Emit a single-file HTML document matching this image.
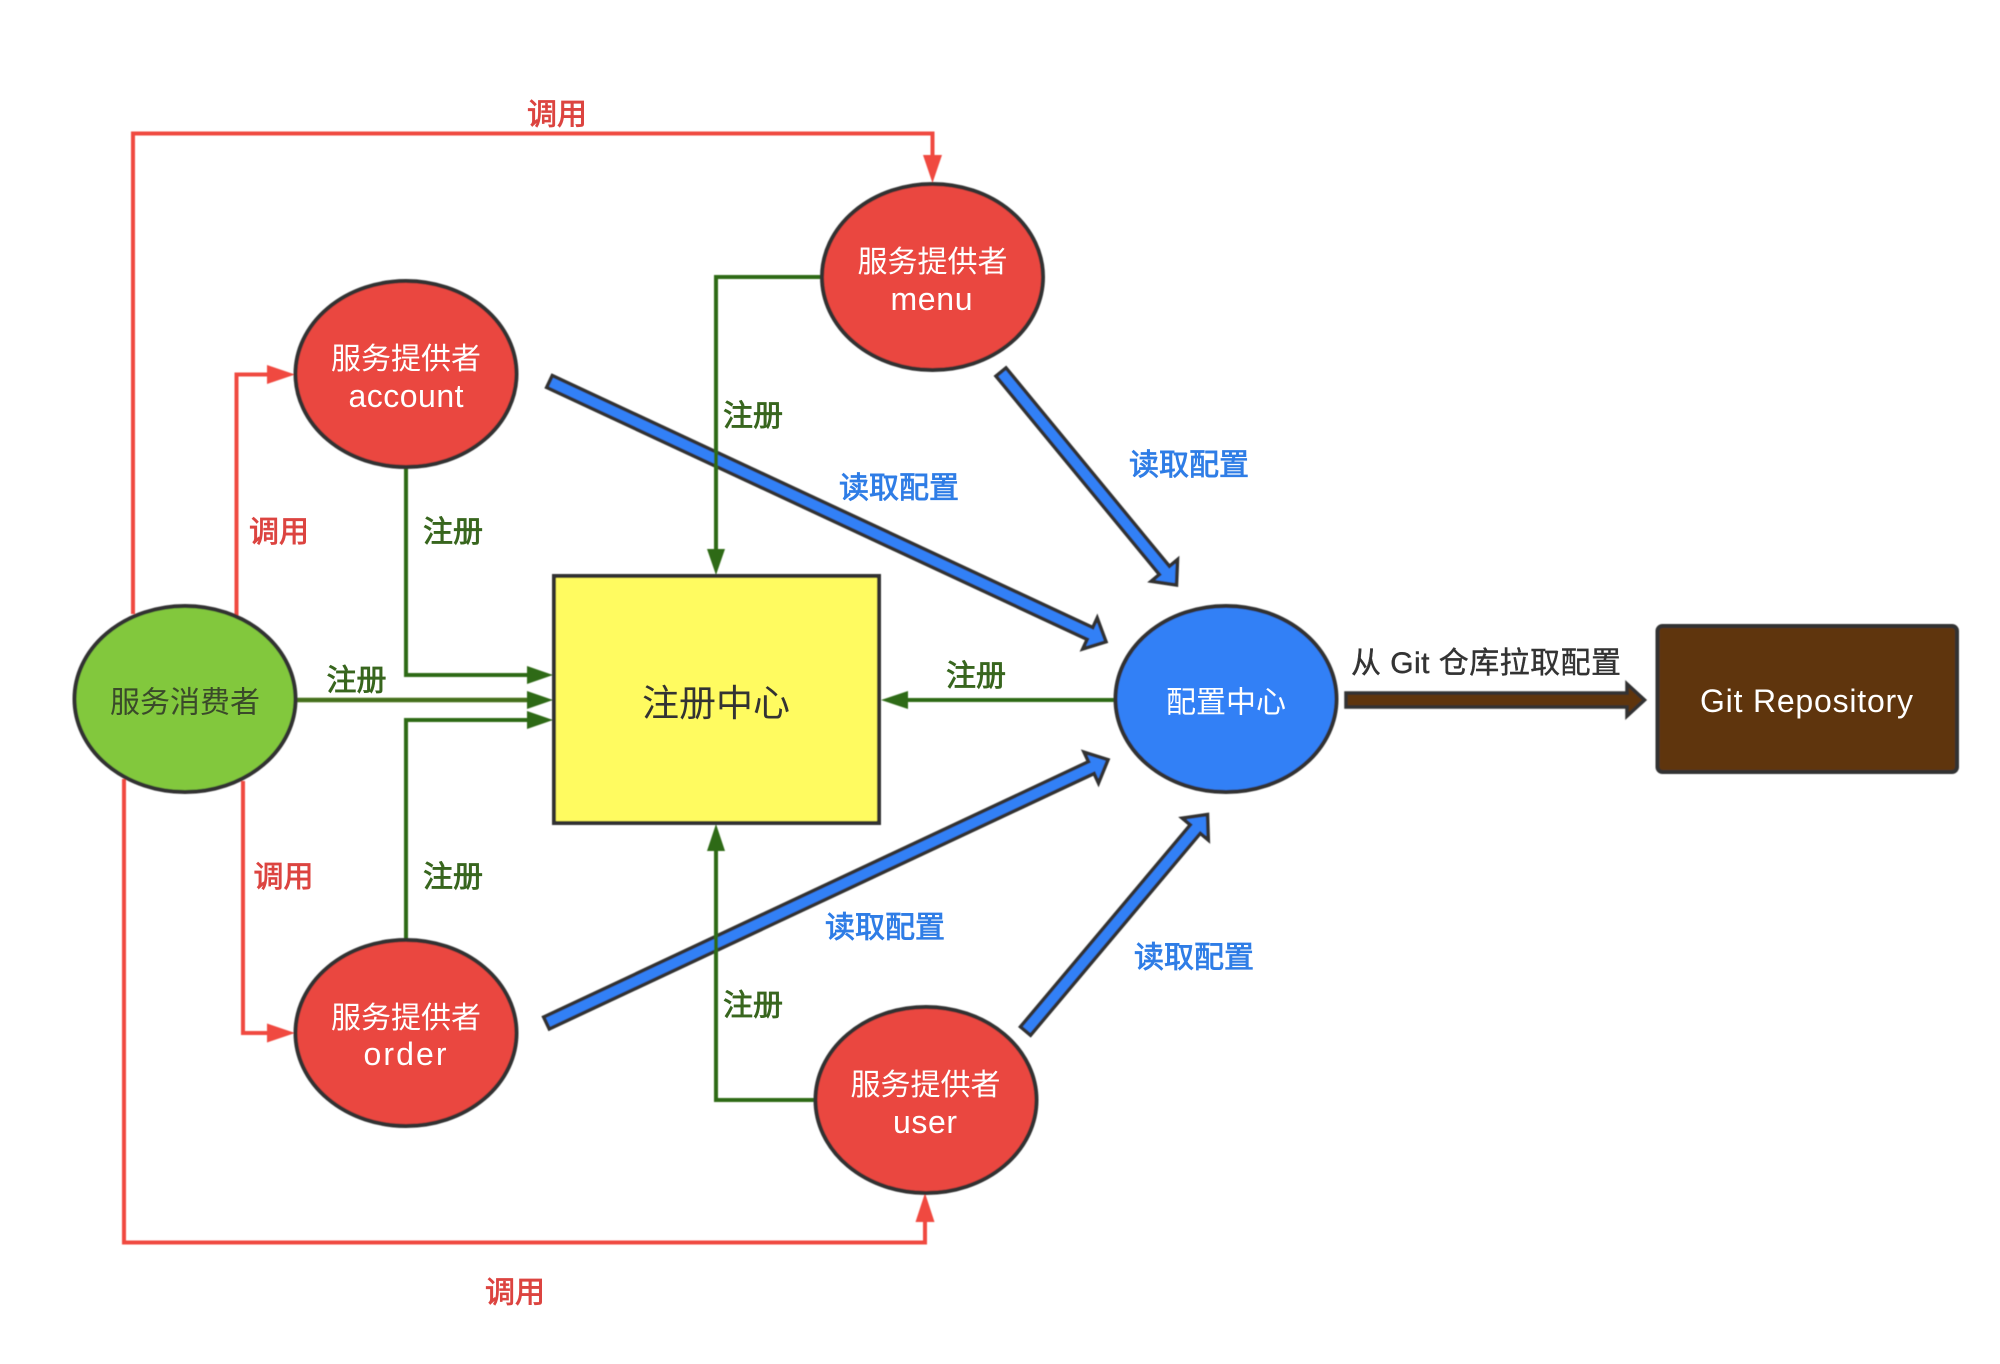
<!DOCTYPE html>
<html><head><meta charset="utf-8"><style>
html,body{margin:0;padding:0;background:#fff}
svg{display:block}
text{font-family:"Liberation Sans","Noto Sans CJK SC",sans-serif;font-size:30px;text-anchor:middle}
.r{fill:#dc4440;stroke:#dc4440;stroke-width:.8}.g{fill:#38661e;stroke:#38661e;stroke-width:.8}.b{fill:#2f7de6;stroke:#2f7de6;stroke-width:.8}
.w{fill:#fff}
.l{font-size:32px}
</style></head><body>
<svg width="2000" height="1364" viewBox="0 0 2000 1364" xmlns="http://www.w3.org/2000/svg">
<defs><filter id="s" x="-2%" y="-2%" width="104%" height="104%"><feGaussianBlur stdDeviation="0.6"/></filter></defs>
<rect width="2000" height="1364" fill="#fff"/>
<g filter="url(#s)">
<!-- blue arrows -->
<g fill="#3080f6" stroke="#333" stroke-width="3.5">
<polygon points="546.7,387.4 1087.2,639.4 1082.8,648.9 1106,641.8 1097.2,618.1 1092.8,627.6 552.3,375.6"/>
<polygon points="996,376.1 1159.4,574.5 1151.3,581.2 1176.5,585 1177.5,559.6 1169.4,566.3 1006,367.9"/>
<polygon points="549.3,1028.9 1094.1,773.5 1098.5,783 1108,759.7 1084.1,752.2 1088.5,761.7 543.7,1017.1"/>
<polygon points="1030.5,1035.2 1200.3,833.3 1208.3,840 1207.5,814.5 1182.3,818.2 1190.3,824.9 1020.5,1026.8"/>
</g>
<polygon points="1346,693 1627,693 1627,684 1644.5,700 1627,716 1627,707 1346,707" fill="#5f3410" stroke="#333" stroke-width="3.5"/>
<!-- red lines -->
<g fill="none" stroke="#f0483f" stroke-width="4">
<path d="M133 614V133.5H932.5V158"/>
<path d="M236.5 616V374.5H270"/>
<path d="M243 781V1033H270"/>
<path d="M124 779V1242.5H925V1220"/>
</g>
<g fill="#f0483f">
<polygon points="923,155 942,155 932.5,183"/>
<polygon points="267,365 295,374.5 267,384"/>
<polygon points="267,1023.5 295,1033 267,1042.5"/>
<polygon points="915.5,1222 934.5,1222 925,1193"/>
</g>
<!-- green lines -->
<g fill="none" stroke="#2f6a14" stroke-width="4">
<path d="M406 467V675H530"/>
<path d="M296 700H530" stroke="#456f1c" stroke-width="4.5"/>
<path d="M406 939V720H530"/>
<path d="M822 277H716V551"/>
<path d="M815 1100H716V850"/>
<path d="M1116 700H905"/>
</g>
<g fill="#2f6a14">
<polygon points="527,666 553,675 527,684"/>
<polygon points="527,691 553,700 527,709"/>
<polygon points="527,711 553,720 527,729"/>
<polygon points="707,549 725,549 716,575"/>
<polygon points="707,851 725,851 716,824"/>
<polygon points="908,691 908,709 881,700"/>
</g>
<!-- nodes -->
<g stroke="#333" stroke-width="4">
<rect x="554" y="576" width="325" height="247" fill="#fffb60"/>
<ellipse cx="185" cy="699" rx="110.5" ry="93" fill="#82c83c"/>
<ellipse cx="406" cy="374" rx="110.5" ry="93" fill="#ea4640"/>
<ellipse cx="932.5" cy="277" rx="110.5" ry="93" fill="#ea4640"/>
<ellipse cx="406" cy="1033" rx="110.5" ry="93" fill="#ea4640"/>
<ellipse cx="926" cy="1100" rx="110.5" ry="93" fill="#ea4640"/>
<ellipse cx="1226" cy="699" rx="110.5" ry="93" fill="#3080f6"/>
<rect x="1657.5" y="626" width="299.5" height="146" rx="5" fill="#5f3410"/>
</g>
</g>
<!-- labels -->
<text class="r" x="557" y="124.5">调用</text>
<text class="r" x="279" y="542">调用</text>
<text class="r" x="283.5" y="887">调用</text>
<text class="r" x="515" y="1302.5">调用</text>
<text class="g" x="453" y="542">注册</text>
<text class="g" x="753" y="426">注册</text>
<text class="g" x="356.5" y="690.5">注册</text>
<text class="g" x="976" y="686">注册</text>
<text class="g" x="453" y="887">注册</text>
<text class="g" x="753" y="1015.5">注册</text>
<text class="b" x="899" y="498">读取配置</text>
<text class="b" x="1189" y="475">读取配置</text>
<text class="b" x="885" y="937.5">读取配置</text>
<text class="b" x="1194" y="967.5">读取配置</text>
<text x="185" y="712.5" fill="#3a4a2a">服务消费者</text>
<text x="716" y="716" fill="#333" style="font-size:37px">注册中心</text>
<text class="w" x="1226" y="712.5">配置中心</text>
<text class="w" x="406" y="369">服务提供者</text>
<text class="w l" x="406" y="407" textLength="115">account</text>
<text class="w" x="932.5" y="272">服务提供者</text>
<text class="w l" x="931.5" y="310" textLength="82">menu</text>
<text class="w" x="406" y="1028">服务提供者</text>
<text class="w l" x="405" y="1065" textLength="83">order</text>
<text class="w" x="925.5" y="1095">服务提供者</text>
<text class="w l" x="925" y="1133" textLength="64">user</text>
<text x="1486" y="673" fill="#333" stroke="#333" stroke-width=".4" textLength="270">从 Git 仓库拉取配置</text>
<text class="w l" x="1806.5" y="712" textLength="213">Git Repository</text>
</svg>
</body></html>
